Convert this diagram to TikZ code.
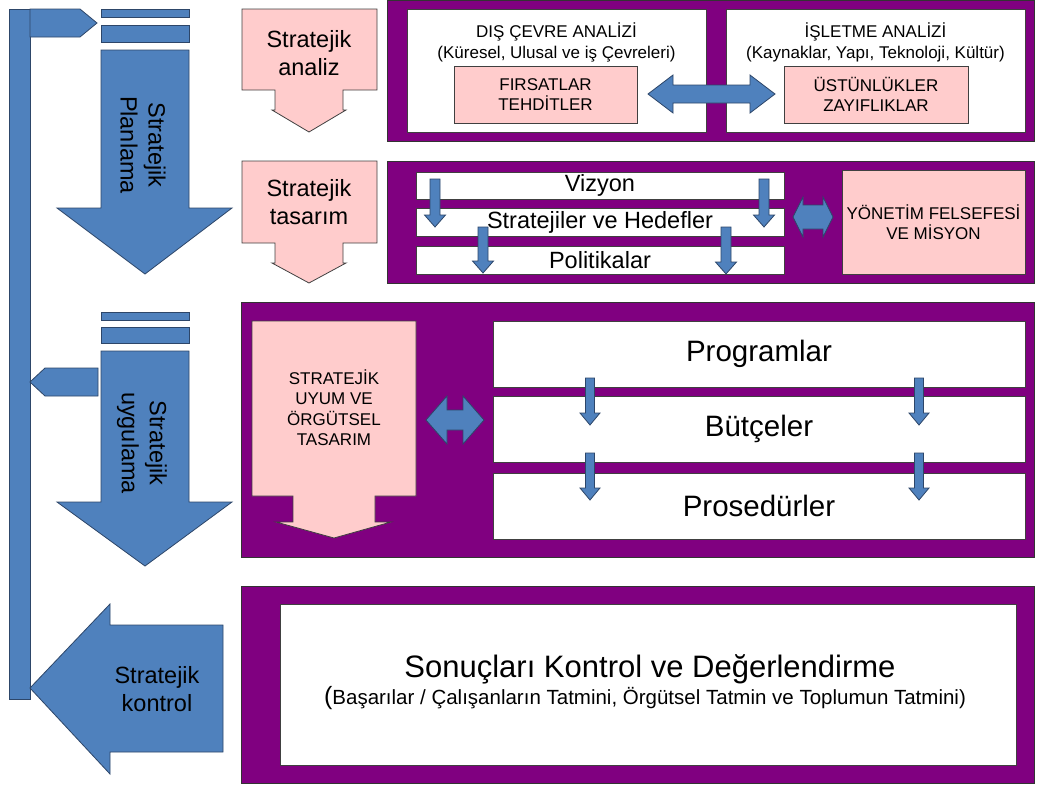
\documentclass[tikz,border=0pt]{standalone}
\usepackage{fontspec}
\setmainfont{Liberation Sans}
\usepackage{tikz}
\definecolor{blueF}{RGB}{79,129,189}
\definecolor{blueD}{RGB}{45,70,105}
\definecolor{pinkF}{RGB}{255,204,204}
\definecolor{purpleF}{RGB}{128,0,128}
\tikzstyle{blk} = [fill=blueF, draw=blueD, line width=0.8pt]
\tikzstyle{pnk} = [fill=pinkF, draw=black!75, line width=0.8pt]
\tikzstyle{prp} = [fill=purpleF, draw=black!80, line width=1pt, inner sep=0pt]
\tikzstyle{wht} = [fill=white, draw=black!75, line width=0.8pt, inner sep=0pt]
\tikzstyle{pbox} = [pnk, inner sep=0pt, align=center]
\tikzstyle{txt} = [inner sep=0pt, align=center]
\tikzstyle{fsmall} = [font={\fontsize{17}{20.5}\selectfont}]
\tikzstyle{fmid} = [font={\fontsize{23.5}{28}\selectfont}]
\tikzstyle{fbig} = [font={\fontsize{29.5}{34}\selectfont}]

\begin{document}
\begin{tikzpicture}[x=1pt,y=-1pt]
  \useasboundingbox (0,0) rectangle (1038,785);
  % feedback bar and tabs
  \node[blk, inner sep=0pt, minimum width=21, minimum height=690] (bar) at (19.5,354) {};
  \draw[blk] (30,9) -- (80,9) -- (97,23) -- (80,37) -- (30,37) -- cycle;
  \draw[blk] (30,382) -- (45,368) -- (98,368) -- (98,396) -- (45,396) -- cycle;
  % planlama
  \node[blk, inner sep=0pt, minimum width=88, minimum height=8] (pl1) at (145,13) {};
  \node[blk, inner sep=0pt, minimum width=88, minimum height=17] (pl2) at (145,33.5) {};
  \draw[blk] (101,50) -- (189,50) -- (189,208) -- (232,208) -- (145,274) -- (57,208) -- (101,208) -- cycle;
  \node[txt, fmid, rotate=-90] (plan) at (143,145) {Stratejik\\Planlama};
  % uygulama
  \node[blk, inner sep=0pt, minimum width=88, minimum height=8] (uy1) at (145,316) {};
  \node[blk, inner sep=0pt, minimum width=88, minimum height=16] (uy2) at (145,335) {};
  \draw[blk] (101,351) -- (189,351) -- (189,502) -- (232,502) -- (145,566) -- (57,502) -- (101,502) -- cycle;
  \node[txt, fmid, rotate=-90] (uyg) at (142,443) {Stratejik\\uygulama};
  % kontrol
  \draw[blk] (223,625) -- (223,752) -- (110,752) -- (110,774) -- (30,688) -- (110,604) -- (110,625) -- cycle;
  \node[txt, fmid] (kont) at (157,689) {Stratejik\\kontrol};

  % analiz
  \filldraw[pnk] (242,9) -- (377,9) -- (377,90) -- (343,90) -- (343,110) -- (346,110) -- (309,132)
    -- (272,110) -- (275,110) -- (275,90) -- (242,90) -- cycle;
  \node[txt, fmid] (analiz) at (309,53) {Stratejik\\analiz};
  \node[prp, minimum width=647, minimum height=141] (p1) at (710.5,71) {};
  \node[wht, minimum width=299, minimum height=123] (dis) at (556.5,70.5) {};
  \node[wht, minimum width=299, minimum height=123] (isl) at (875.5,70.5) {};
  \node[txt, fsmall] (dish) at (556.5,42.5) {DIŞ ÇEVRE ANALİZİ\\(Küresel, Ulusal ve iş Çevreleri)};
  \node[txt, fsmall] (islh) at (875.5,42.5) {İŞLETME ANALİZİ\\(Kaynaklar, Yapı, Teknoloji, Kültür)};
  \node[pbox, fsmall, minimum width=183, minimum height=57] (firsat) at (545.5,94.5) {FIRSATLAR\\TEHDİTLER};
  \node[pbox, fsmall, minimum width=184, minimum height=57] (ustun) at (876,94.5) {ÜSTÜNLÜKLER\\ZAYIFLIKLAR};
  \draw[blk] (648,94) -- (673,75) -- (673,85) -- (750,85) -- (750,75) -- (775,94) -- (750,113) -- (750,103)
    -- (673,103) -- (673,113) -- cycle;

  % tasarim
  \filldraw[pnk] (242,161) -- (377,161) -- (377,243) -- (343,243) -- (343,263) -- (346,263) -- (309,283)
    -- (272,263) -- (275,263) -- (275,243) -- (242,243) -- cycle;
  \node[txt, fmid] (tasarim) at (309,202) {Stratejik\\tasarım};
  \node[prp, minimum width=647, minimum height=122] (p2) at (710.5,222) {};
  \node[wht, fmid, minimum width=368, minimum height=27] (vizyon) at (600,185.5) {Vizyon};
  \node[wht, fmid, minimum width=368, minimum height=28] (hedef) at (600,222) {Stratejiler ve Hedefler};
  \node[wht, fmid, minimum width=368, minimum height=28] (polit) at (600,260) {Politikalar};
  \draw[blk] (430,179) -- ++(10,0) -- ++(0,36) -- ++(5.5,0) -- ++(-10.5,12) -- ++(-10.5,-12) -- ++(5.5,0) -- cycle;
  \draw[blk] (759,179) -- ++(10,0) -- ++(0,36) -- ++(5.5,0) -- ++(-10.5,12) -- ++(-10.5,-12) -- ++(5.5,0) -- cycle;
  \draw[blk] (478,227) -- ++(10,0) -- ++(0,34) -- ++(5.5,0) -- ++(-10.5,12) -- ++(-10.5,-12) -- ++(5.5,0) -- cycle;
  \draw[blk] (721,227) -- ++(10,0) -- ++(0,35) -- ++(5.5,0) -- ++(-10.5,12) -- ++(-10.5,-12) -- ++(5.5,0) -- cycle;
  \draw[blk] (793,217) -- (803,197) -- (803,205) -- (823,205) -- (823,197) -- (833,217) -- (823,237) -- (823,229)
    -- (803,229) -- (803,237) -- cycle;
  \node[pbox, fsmall, minimum width=183, minimum height=104] (misyon) at (933.5,222) {YÖNETİM FELSEFESİ\\VE MİSYON};

  % uyum
  \node[prp, minimum width=793, minimum height=255] (p3) at (637.5,429.5) {};
  \filldraw[pnk] (252,321) -- (416,321) -- (416,496) -- (375,496) -- (375,522) -- (391,522) -- (334,538)
    -- (276,522) -- (293,522) -- (293,496) -- (252,496) -- cycle;
  \node[txt, fsmall] (uyum) at (334,407.5) {STRATEJİK\\UYUM VE\\ÖRGÜTSEL\\TASARIM};
  \draw[blk] (426,420) -- (447,396) -- (447,410) -- (463,410) -- (463,396) -- (484,420) -- (463,444) -- (463,430)
    -- (447,430) -- (447,444) -- cycle;
  \node[wht, fbig, minimum width=532, minimum height=66] (prog) at (759,354) {Programlar};
  \node[wht, fbig, minimum width=532, minimum height=66] (butce) at (759,429) {Bütçeler};
  \node[wht, fbig, minimum width=532, minimum height=66] (prosed) at (759,506) {Prosedürler};
  \draw[blk] (585.5,378) -- ++(9,0) -- ++(0,35) -- ++(5.5,0) -- ++(-10,12) -- ++(-10,-12) -- ++(5.5,0) -- cycle;
  \draw[blk] (914.5,378) -- ++(9,0) -- ++(0,35) -- ++(5.5,0) -- ++(-10,12) -- ++(-10,-12) -- ++(5.5,0) -- cycle;
  \draw[blk] (585.5,453) -- ++(9,0) -- ++(0,35) -- ++(5.5,0) -- ++(-10,12) -- ++(-10,-12) -- ++(5.5,0) -- cycle;
  \draw[blk] (914.5,453) -- ++(9,0) -- ++(0,35) -- ++(5.5,0) -- ++(-10,12) -- ++(-10,-12) -- ++(5.5,0) -- cycle;

  % sonuclar
  \node[prp, minimum width=793, minimum height=197] (p4) at (637.5,684.5) {};
  \node[wht, minimum width=736, minimum height=161] (sonuckutu) at (648,684.5) {};
  \node[txt, font={\fontsize{31}{36}\selectfont}, anchor=base] (sonuc) at (650,677) {Sonuçları Kontrol ve Değerlendirme};
  \node[txt, font={\fontsize{20.5}{24}\selectfont}, anchor=base] (basari) at (645,704) {{\fontsize{25}{25}\selectfont(}Başarılar / Çalışanların Tatmini, Örgütsel Tatmin ve Toplumun Tatmini)};
\end{tikzpicture}
\end{document}
